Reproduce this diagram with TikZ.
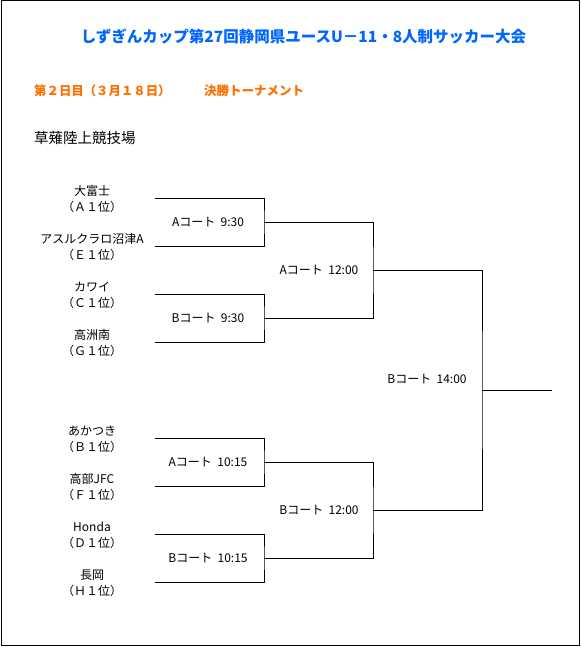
\documentclass[tikz,border=0pt]{standalone}
\usepackage{fontspec}
\setmainfont{Noto Sans CJK JP}
\usepackage{xcolor}
\usepackage{tikz}

\definecolor{titleblue}{RGB}{0,102,255}
\definecolor{dayorange}{RGB}{255,110,0}

\begin{document}
\begin{tikzpicture}[x=1pt, y=-1pt,
    team/.style={align=center, inner sep=0pt, font=\fontsize{12}{16}\selectfont},
    court/.style={inner sep=0pt, font=\fontsize{12}{14}\selectfont},
    bracket/.style={line width=1pt, black}]
      % --- page and frame ---
      \useasboundingbox (0,0) rectangle (581,647);
      \draw[line width=1pt] (1,1) rectangle (579,645);

      % --- headings ---
      \node[titleblue, inner sep=0pt, font=\fontsize{15.5}{18}\selectfont\bfseries] (title) at (303.5,37) {しずぎんカップ第27回静岡県ユースU－11・8人制サッカー大会};
      \node[dayorange, anchor=west, inner sep=0pt, font=\fontsize{12.4}{14}\selectfont\bfseries] (day) at (34,91) {第２日目（３月１８日）};
      \node[dayorange, anchor=west, inner sep=0pt, font=\fontsize{12.5}{14}\selectfont\bfseries] (stage) at (204,91) {決勝トーナメント};
      \node[anchor=west, inner sep=0pt, font=\fontsize{14.5}{16}\selectfont] (venue) at (34,138) {草薙陸上競技場};

      % --- teams (name over group rank) ---
      \node[team] (t1) at (92,199) {大富士\\（Ａ１位）};
      \node[team] (t2) at (92,247) {アスルクラロ沼津A\\（Ｅ１位）};
      \node[team] (t3) at (92,295) {カワイ\\（Ｃ１位）};
      \node[team] (t4) at (92,343) {高洲南\\（Ｇ１位）};
      \node[team] (t5) at (92,439) {あかつき\\（Ｂ１位）};
      \node[team] (t6) at (92,487) {高部JFC\\（Ｆ１位）};
      \node[team] (t7) at (92,535) {Honda\\（Ｄ１位）};
      \node[team] (t8) at (92,583) {長岡\\（Ｈ１位）};

      % --- bracket points ---
      \foreach \i/\y in {1/198, 2/246, 3/294, 4/342, 5/438, 6/486, 7/534, 8/582}
        \coordinate (e\i) at (155,\y);
      \coordinate (j1) at (264,222);
      \coordinate (j2) at (264,318);
      \coordinate (j3) at (264,462);
      \coordinate (j4) at (264,558);
      \coordinate (k1) at (373,270);
      \coordinate (k2) at (373,510);
      \coordinate (fin) at (482,390);
      \coordinate (champ) at (552,390);

      % --- first round ---
      \draw[bracket] (e1) -| (j1) |- (e2);
      \draw[bracket] (e3) -| (j2) |- (e4);
      \draw[bracket] (e5) -| (j3) |- (e6);
      \draw[bracket] (e7) -| (j4) |- (e8);

      % --- semifinals and final ---
      \draw[bracket] (j1) -| (k1) |- (j2);
      \draw[bracket] (j3) -| (k2) |- (j4);
      \draw[bracket] (k1) -| (fin) |- (k2);
      \draw[bracket] (fin) -- (champ);

      % --- court and kick-off labels ---
      \node[court] (g1) at (208,222) {Aコート\ \ 9:30};
      \node[court] (g2) at (208,318) {Bコート\ \ 9:30};
      \node[court] (g3) at (208,462) {Aコート\ \ 10:15};
      \node[court] (g4) at (208,558) {Bコート\ \ 10:15};
      \node[court] (s1) at (319,270) {Aコート\ \ 12:00};
      \node[court] (s2) at (319,510) {Bコート\ \ 12:00};
      \node[court] (fl) at (427,379) {Bコート\ \ 14:00};
    \end{tikzpicture}
\end{document}
